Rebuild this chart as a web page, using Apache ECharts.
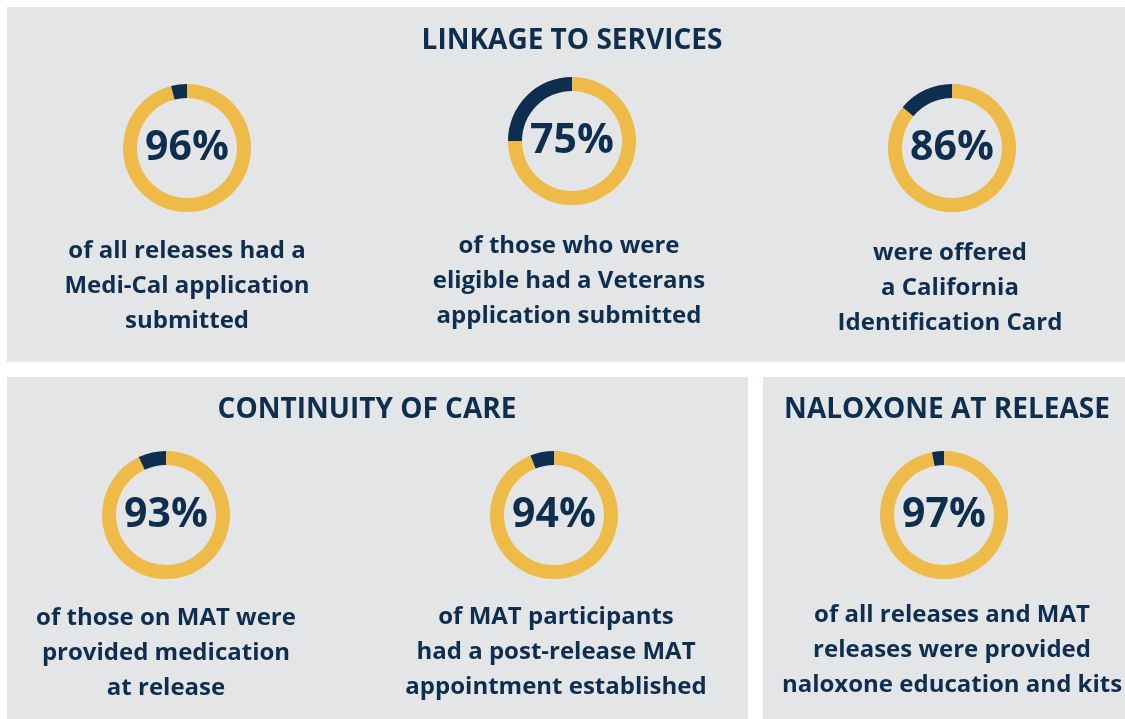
<!DOCTYPE html>
<html>
<head>
<meta charset="utf-8">
<script src="https://cdn.jsdelivr.net/npm/echarts@6/dist/echarts.min.js"></script>
<style>
  html, body { margin: 0; padding: 0; background: #ffffff; }
  #main { width: 1125px; height: 719px; }
</style>
</head>
<body>
<div id="main"></div>
<script>
// values
const sectionTitles = ['LINKAGE TO SERVICES', 'CONTINUITY OF CARE', 'NALOXONE AT RELEASE'];
const categories = ['Medi-Cal application', 'Veterans application', 'California ID card',
    'Medication at release', 'Post-release MAT appointment', 'Naloxone kits'];
const percentValues = [96, 75, 86, 93, 94, 97];
const descriptions = [
    'of all releases had a\nMedi-Cal application\nsubmitted',
    'of those who were\neligible had a Veterans\napplication submitted',
    'were offered\na California\nIdentification Card',
    'of those on MAT were\nprovided medication\nat release',
    'of MAT participants\nhad a post-release MAT\nappointment established',
    'of all releases and MAT\nreleases were provided\nnaloxone education and kits'
];

const NAVY = '#0d2e4f';
const YELLOW = '#eeba48';
const PANEL = '#e4e5e7';
const FONT = '"Open Sans", Lato, sans-serif';

// layout
const panels = [
    { x: 7, y: 7, w: 1118, h: 355 },
    { x: 7, y: 377, w: 741, h: 342 },
    { x: 763, y: 377, w: 362, h: 342 }
];
const titlePos = [[572, 41], [367, 410], [947, 410]];
const donutPos = [[187, 148], [572, 141], [952, 148], [166, 515], [554, 515], [944, 515]];
const descPos = [[187, 234], [569, 229], [950, 236], [166, 601], [556, 600], [952, 598]];

var chartDom = document.getElementById('main');
var myChart = echarts.init(chartDom);

var graphics = [];
panels.forEach(function (p) {
    graphics.push({
        type: 'rect',
        shape: { x: p.x, y: p.y, width: p.w, height: p.h },
        style: { fill: PANEL },
        z: 0, silent: true
    });
});
sectionTitles.forEach(function (t, i) {
    graphics.push({
        type: 'text',
        x: titlePos[i][0], y: titlePos[i][1],
        style: {
            text: t, fill: NAVY, font: 'bold 28px ' + FONT,
            textAlign: 'center', textVerticalAlign: 'middle'
        },
        z: 10
    });
});
descriptions.forEach(function (d, i) {
    graphics.push({
        type: 'text',
        x: descPos[i][0], y: descPos[i][1],
        style: {
            text: d, fill: NAVY, font: 'bold 24px ' + FONT,
            lineHeight: 35, textAlign: 'center', textVerticalAlign: 'top'
        },
        z: 10
    });
});

var series = percentValues.map(function (v, i) {
    return {
        name: categories[i],
        type: 'pie',
        center: donutPos[i],
        radius: [50, 64],
        startAngle: 90,
        clockwise: true,
        silent: true,
        labelLine: { show: false },
        data: [
            {
                value: v, name: categories[i],
                itemStyle: { color: YELLOW },
                label: {
                    show: true, position: 'center',
                    formatter: v + '%',
                    color: NAVY, fontSize: 41, fontWeight: 'bold', fontFamily: FONT
                }
            },
            {
                value: 100 - v, name: 'other',
                itemStyle: { color: NAVY },
                label: { show: false }
            }
        ]
    };
});

var option = {
    animation: false,
    backgroundColor: '#ffffff',
    graphic: graphics,
    series: series
};

option && myChart.setOption(option);
</script>
</body>
</html>
